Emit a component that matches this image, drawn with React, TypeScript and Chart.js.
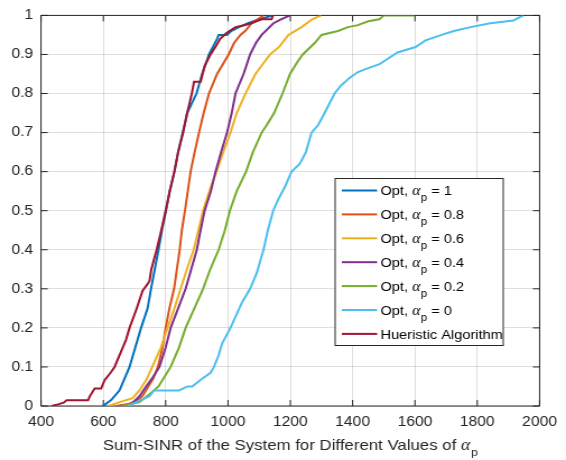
import React, { useEffect, useRef } from 'react';
import { Chart, registerables } from 'chart.js';

Chart.register(...registerables);

// ---------------- data ----------------
const xTickStep = 200;
const xMin = 400;
const xMax = 2000;
const yMin = 0;
const yMax = 1;
const yTickStep = 0.1;

const seriesNames = [
  'Opt, α_p = 1',
  'Opt, α_p = 0.8',
  'Opt, α_p = 0.6',
  'Opt, α_p = 0.4',
  'Opt, α_p = 0.2',
  'Opt, α_p = 0',
  'Hueristic Algorithm',
];
const seriesColors = ['#0072BD', '#D95319', '#EDB120', '#7E2F8E', '#77AC30', '#4DBEEE', '#A2142F'];

const opt1X = [596, 604, 625, 652, 684, 721, 742, 753, 765, 777, 788, 801, 813, 828, 840, 855, 869, 899, 917, 939, 965, 970, 997, 1010, 1035, 1064, 1100, 1146];
const opt1Y = [0, 0.003, 0.015, 0.04, 0.1, 0.2, 0.25, 0.3, 0.35, 0.4, 0.45, 0.5, 0.55, 0.6, 0.65, 0.7, 0.75, 0.8, 0.85, 0.9, 0.94, 0.95, 0.95, 0.96, 0.97, 0.98, 0.99, 1];

const opt08X = [640, 680, 710, 725, 737, 760, 775, 790, 800, 812, 827, 836, 845, 852, 862, 871, 880, 893, 907, 922, 939, 965, 1002, 1020, 1040, 1055, 1076, 1095, 1114];
const opt08Y = [0, 0.005, 0.015, 0.025, 0.04, 0.07, 0.1, 0.15, 0.2, 0.25, 0.3, 0.35, 0.4, 0.45, 0.5, 0.55, 0.6, 0.65, 0.7, 0.75, 0.8, 0.85, 0.9, 0.93, 0.95, 0.96, 0.98, 0.99, 1];

const opt06X = [616, 652, 694, 716, 740, 757, 785, 806, 828, 848, 868, 890, 905, 920, 940, 963, 985, 1008, 1028, 1056, 1088, 1116, 1135, 1165, 1194, 1236, 1270, 1299];
const opt06Y = [0, 0.01, 0.02, 0.04, 0.07, 0.1, 0.15, 0.2, 0.25, 0.3, 0.35, 0.4, 0.45, 0.5, 0.55, 0.6, 0.65, 0.7, 0.75, 0.8, 0.85, 0.88, 0.9, 0.92, 0.95, 0.97, 0.99, 1];

const opt04X = [670, 690, 716, 737, 760, 780, 800, 816, 840, 864, 882, 900, 912, 925, 945, 960, 978, 997, 1012, 1024, 1050, 1071, 1090, 1108, 1146, 1170, 1199];
const opt04Y = [0, 0.005, 0.025, 0.05, 0.075, 0.1, 0.15, 0.2, 0.25, 0.3, 0.35, 0.4, 0.45, 0.5, 0.55, 0.6, 0.65, 0.7, 0.75, 0.8, 0.85, 0.9, 0.93, 0.95, 0.98, 0.99, 1];

const opt02X = [662, 690, 716, 748, 777, 816, 843, 864, 892, 920, 943, 970, 990, 1006, 1028, 1058, 1080, 1108, 1125, 1148, 1175, 1199, 1222, 1240, 1279, 1300, 1353, 1385, 1417, 1450, 1486, 1500, 1600];
const opt02Y = [0, 0.005, 0.01, 0.03, 0.05, 0.1, 0.15, 0.2, 0.25, 0.3, 0.35, 0.4, 0.45, 0.5, 0.55, 0.6, 0.65, 0.7, 0.72, 0.75, 0.8, 0.85, 0.88, 0.9, 0.93, 0.95, 0.96, 0.97, 0.975, 0.985, 0.99, 1, 1];

const opt0X = [680, 705, 748, 763, 843, 870, 885, 917, 944, 955, 970, 981, 1008, 1045, 1071, 1092, 1114, 1128, 1145, 1162, 1182, 1204, 1230, 1250, 1268, 1290, 1310, 1342, 1362, 1390, 1417, 1450, 1486, 1544, 1602, 1634, 1693, 1725, 1778, 1842, 1916, 1948];
const opt0Y = [0, 0.01, 0.025, 0.04, 0.04, 0.05, 0.05, 0.07, 0.085, 0.1, 0.13, 0.16, 0.2, 0.265, 0.3, 0.34, 0.4, 0.45, 0.5, 0.53, 0.56, 0.6, 0.62, 0.65, 0.7, 0.72, 0.75, 0.8, 0.82, 0.84, 0.855, 0.865, 0.875, 0.905, 0.919, 0.936, 0.952, 0.96, 0.97, 0.98, 0.987, 1];

const heurX = [434, 450, 474, 482, 551, 556, 572, 593, 604, 625, 636, 652, 673, 684, 705, 726, 740, 748, 754, 771, 786, 800, 813, 828, 840, 856, 869, 884, 891, 912, 925, 944, 960, 975, 995, 1024, 1052, 1075, 1108, 1140, 1144];
const heurY = [0, 0.003, 0.009, 0.015, 0.015, 0.024, 0.045, 0.045, 0.066, 0.087, 0.1, 0.13, 0.17, 0.2, 0.245, 0.295, 0.31, 0.32, 0.35, 0.4, 0.45, 0.5, 0.55, 0.6, 0.65, 0.7, 0.75, 0.8, 0.83, 0.83, 0.87, 0.9, 0.92, 0.94, 0.955, 0.97, 0.975, 0.98, 0.99, 0.99, 1];

const seriesX = [opt1X, opt08X, opt06X, opt04X, opt02X, opt0X, heurX];
const seriesY = [opt1Y, opt08Y, opt06Y, opt04Y, opt02Y, opt0Y, heurY];

const xAxisTitle = 'Sum-SINR of the System for Different Values of α_p';

// ---------------- layout / style ----------------
const OUT_W = 566;
const OUT_H = 460;
const CANVAS_W = 505; // drawn narrower, then stretched horizontally like the reference
const AXIS_COLOR = '#262626';
const GRID_COLOR = 'rgba(38,38,38,0.15)';
const SANS = "'Liberation Sans', Arial, sans-serif";
const SERIF = "'Liberation Serif', 'DejaVu Serif', serif";

function drawRich(
  ctx: CanvasRenderingContext2D,
  label: string,
  x: number,
  baseline: number,
  mainFont: string,
  alphaFont: string,
  subFont: string,
  subOffset: number,
  color: string,
  measureOnly = false
): number {
  const parts = label.split('α_p');
  let cx = x;
  ctx.fillStyle = color;
  ctx.textBaseline = 'alphabetic';
  ctx.textAlign = 'left';
  ctx.font = mainFont;
  if (!measureOnly) ctx.fillText(parts[0], cx, baseline);
  cx += ctx.measureText(parts[0]).width;
  if (parts.length > 1) {
    ctx.font = alphaFont;
    if (!measureOnly) ctx.fillText('α', cx, baseline);
    cx += ctx.measureText('α').width + 0.5;
    ctx.font = subFont;
    if (!measureOnly) ctx.fillText('p', cx, baseline + subOffset);
    cx += ctx.measureText('p').width;
    ctx.font = mainFont;
    if (!measureOnly) ctx.fillText(parts[1], cx, baseline);
    cx += ctx.measureText(parts[1]).width;
  }
  return cx - x;
}

const decorPlugin = {
  id: 'matlabDecor',
  beforeDatasetsDraw(chart: any) {
    const { ctx, chartArea: a, scales } = chart;
    ctx.save();
    ctx.strokeStyle = AXIS_COLOR;
    ctx.lineWidth = 1;
    ctx.beginPath();
    ctx.rect(a.left, a.top, a.right - a.left, a.bottom - a.top);
    const TL = 6;
    scales.x.ticks.forEach((t: any) => {
      const px = scales.x.getPixelForValue(t.value);
      ctx.moveTo(px, a.bottom);
      ctx.lineTo(px, a.bottom - TL);
      ctx.moveTo(px, a.top);
      ctx.lineTo(px, a.top + TL);
    });
    scales.y.ticks.forEach((t: any) => {
      const py = scales.y.getPixelForValue(t.value);
      ctx.moveTo(a.left, py);
      ctx.lineTo(a.left + TL, py);
      ctx.moveTo(a.right, py);
      ctx.lineTo(a.right - TL, py);
    });
    ctx.stroke();
    ctx.restore();
  },
  afterDraw(chart: any) {
    const { ctx, chartArea: a } = chart;
    ctx.save();
    // legend
    const L = { left: 299, top: 178.5, right: 449, bottom: 345.5, x0: 305, x1: 336.5, tx: 339.5, row0: 190.5, step: 23.9 };
    ctx.fillStyle = '#ffffff';
    ctx.fillRect(L.left, L.top, L.right - L.left, L.bottom - L.top);
    ctx.strokeStyle = AXIS_COLOR;
    ctx.lineWidth = 1;
    ctx.strokeRect(L.left, L.top, L.right - L.left, L.bottom - L.top);
    chart.data.datasets.forEach((ds: any, i: number) => {
      const y = L.row0 + i * L.step;
      ctx.strokeStyle = ds.borderColor;
      ctx.lineWidth = 2;
      ctx.beginPath();
      ctx.moveTo(L.x0, y);
      ctx.lineTo(L.x1, y);
      ctx.stroke();
      drawRich(ctx, ds.label, L.tx, y + 4.6, `13px ${SANS}`, `italic 14px ${SERIF}`, `10px ${SANS}`, 6, '#000000');
    });
    // x axis title
    const mainF = `15px ${SANS}`;
    const alphaF = `italic 16px ${SERIF}`;
    const subF = `11px ${SANS}`;
    const w = drawRich(ctx, xAxisTitle, 0, 0, mainF, alphaF, subF, 6, AXIS_COLOR, true);
    const cx = (a.left + a.right) / 2;
    drawRich(ctx, xAxisTitle, cx - w / 2, 450, mainF, alphaF, subF, 6, AXIS_COLOR);
    ctx.restore();
  },
};

export default function App() {
  const canvasRef = useRef<HTMLCanvasElement | null>(null);

  useEffect(() => {
    document.body.style.margin = '0';
    const canvas = canvasRef.current;
    if (!canvas) return;
    const datasets = seriesNames.map((name, i) => ({
      label: name,
      data: seriesX[i].map((x, j) => ({ x, y: seriesY[i][j] })),
      borderColor: seriesColors[i],
      backgroundColor: seriesColors[i],
      borderWidth: 2,
      pointRadius: 0,
      tension: 0,
      fill: false,
      order: seriesNames.length - 1 - i,
    }));
    const chart = new Chart(canvas, {
      type: 'line',
      data: { datasets },
      options: {
        animation: false,
        responsive: false,
        devicePixelRatio: 1,
        layout: { padding: { top: 13, right: CANVAS_W - 484.8, left: 0, bottom: 0 } },
        plugins: { legend: { display: false }, tooltip: { enabled: false }, title: { display: false } },
        scales: {
          x: {
            type: 'linear',
            min: xMin,
            max: xMax,
            afterFit: (s: any) => { s.height = 54; },
            ticks: {
              stepSize: xTickStep,
              autoSkip: false,
              maxRotation: 0,
              padding: 8,
              color: AXIS_COLOR,
              font: { family: SANS, size: 14 },
              callback: (v: any) => String(v),
            },
            grid: { color: GRID_COLOR, drawTicks: false, lineWidth: 1 },
            border: { display: false },
          },
          y: {
            type: 'linear',
            min: yMin,
            max: yMax,
            afterFit: (s: any) => { s.width = 36.6; },
            ticks: {
              stepSize: yTickStep,
              padding: 7,
              color: AXIS_COLOR,
              font: { family: SANS, size: 14 },
              callback: (v: any) => String(Math.round(Number(v) * 10) / 10),
            },
            grid: { color: GRID_COLOR, drawTicks: false, lineWidth: 1 },
            border: { display: false },
          },
        },
      },
      plugins: [decorPlugin],
    });
    return () => chart.destroy();
  }, []);

  return (
    <div style={{ position: 'fixed', left: 0, top: 0, width: OUT_W, height: OUT_H, background: '#fff' }}>
      <canvas
        ref={canvasRef}
        width={CANVAS_W}
        height={OUT_H}
        style={{ width: `${OUT_W}px`, height: `${OUT_H}px`, display: 'block' }}
      />
    </div>
  );
}
